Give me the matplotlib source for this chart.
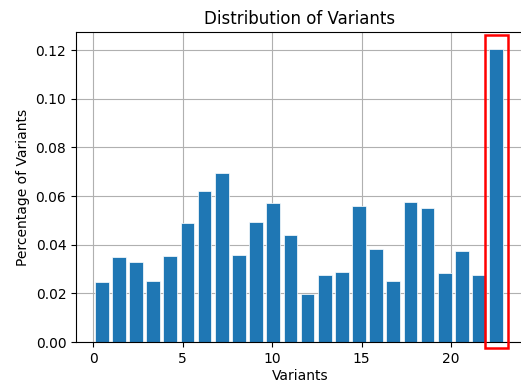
import numpy as np
import matplotlib
matplotlib.use("Agg")
import matplotlib.pyplot as plt
from matplotlib.patches import Rectangle

# Share of records per variant (density per bin)
variants = list(range(24))
pct_variants = [0.0246, 0.0350, 0.0331, 0.0253, 0.0354, 0.0488, 0.0622, 0.0693,
                0.0359, 0.0494, 0.0570, 0.0441, 0.0197, 0.0276, 0.0288, 0.0558,
                0.0384, 0.0253, 0.0576, 0.0552, 0.0282, 0.0373, 0.0276, 0.1205]
x_ticks = [0, 5, 10, 15, 20]

fig = plt.figure(figsize=(5.21, 3.87), dpi=100)
ax = fig.add_axes([0.146, 0.116, 0.859, 0.801])

# histogram-style bins over 0..23 with rwidth 0.8
edges = np.linspace(min(variants), max(variants), len(variants) + 1)
bin_w = edges[1] - edges[0]
bars = ax.bar(edges[:-1] + 0.1 * bin_w, pct_variants, width=0.8 * bin_w,
              align="edge", color="#1f77b4", edgecolor="white", linewidth=0.5,
              zorder=2)

ax.set_xlim(-0.95, 24.05)
ax.set_ylim(0, max(pct_variants) * 1.057)
ax.set_xticks(x_ticks)
ax.set_yticks(np.arange(0, 0.121, 0.02))
ax.yaxis.set_major_formatter(plt.FuncFormatter(lambda v, pos: f"{v:.2f}"))
ax.grid(True, color="#b0b0b0", linewidth=0.8)
ax.set_axisbelow(True)

ax.set_title("Distribution of Variants")
ax.set_xlabel("Variants", labelpad=2)
ax.set_ylabel("Percentage of Variants")

# highlight box around the largest variant
last = bars[-1]
pad_x = 0.26
box = Rectangle((last.get_x() - pad_x, -0.0025), last.get_width() + 2 * pad_x, 0.1287,
                fill=False, edgecolor="red", linewidth=1.8, clip_on=False, zorder=5)
ax.add_patch(box)

fig.savefig("out.png", dpi=100)
